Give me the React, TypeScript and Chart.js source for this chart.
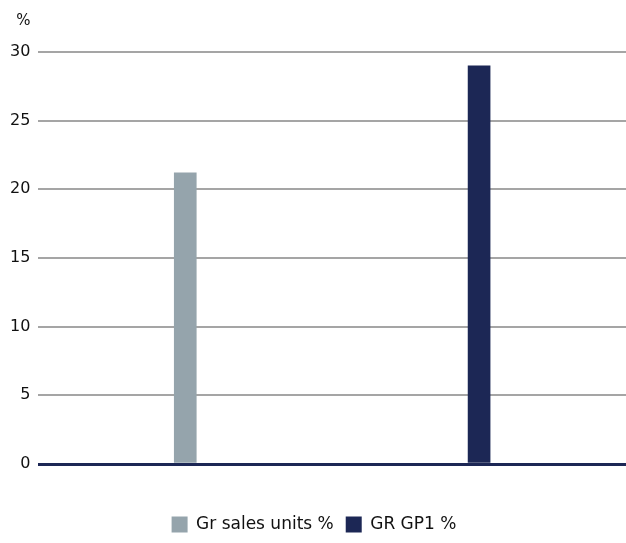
import React, { useEffect, useRef } from "react";
import { Chart, registerables } from "chart.js";

Chart.register(...registerables);

const categories = ["Gr sales units %", "GR GP1 %"];
const salesUnits = [21.2, null];
const gp1 = [null, 29.0];
const yTicks = [0, 5, 10, 15, 20, 25, 30];

const GREY = "#95a4ac";
const NAVY = "#1c2755";
const GRID = "#a5a5a5";
const FONT = "'DejaVu Sans', sans-serif";

export default function App() {
  const ref = useRef<HTMLCanvasElement | null>(null);
  useEffect(() => {
    document.body.style.margin = "0";
    if (!ref.current) return;
    const chart = new Chart(ref.current, {
      type: "bar",
      data: {
        labels: categories,
        datasets: [
          { label: "Gr sales units %", data: salesUnits, backgroundColor: GREY, barThickness: 22, grouped: false } as any,
          { label: "GR GP1 %", data: gp1, backgroundColor: NAVY, barThickness: 22, grouped: false } as any,
        ],
      },
      options: {
        animation: false,
        responsive: false,
        maintainAspectRatio: false,
        layout: { padding: { top: 0, right: 0, bottom: 0, left: 2 } },
        plugins: {
          title: {
            display: true,
            text: "   %",
            align: "start",
            color: "#111",
            font: { family: FONT, size: 15, weight: "normal" },
            padding: { top: 12, bottom: 22 },
          },
          legend: {
            position: "bottom",
            labels: {
              color: "#111",
              font: { family: FONT, size: 17 },
              boxWidth: 16,
              boxHeight: 16,
              padding: 12,
            },
          },
          tooltip: { enabled: false },
        },
        scales: {
          x: {
            grid: { display: false, drawTicks: false },
            border: { display: false },
            ticks: { display: false },
            afterFit: (axis: any) => {
              axis.height = 40;
            },
          },
          y: {
            min: 0,
            max: 30,
            afterBuildTicks: (axis: any) => {
              axis.ticks = yTicks.map((v) => ({ value: v }));
            },
            border: { display: false },
            grid: {
              color: (ctx: any) => (ctx.tick && ctx.tick.value === 0 ? NAVY : GRID),
              lineWidth: (ctx: any) => (ctx.tick && ctx.tick.value === 0 ? 3 : 2),
              drawTicks: false,
            },
            ticks: {
              color: "#111",
              padding: 8,
              font: { family: FONT, size: 16 },
            },
          },
        },
      },
    });
    return () => chart.destroy();
  }, []);
  return (
    <div style={{ width: 626, height: 543 }}>
      <canvas ref={ref} width={626} height={543} />
    </div>
  );
}
